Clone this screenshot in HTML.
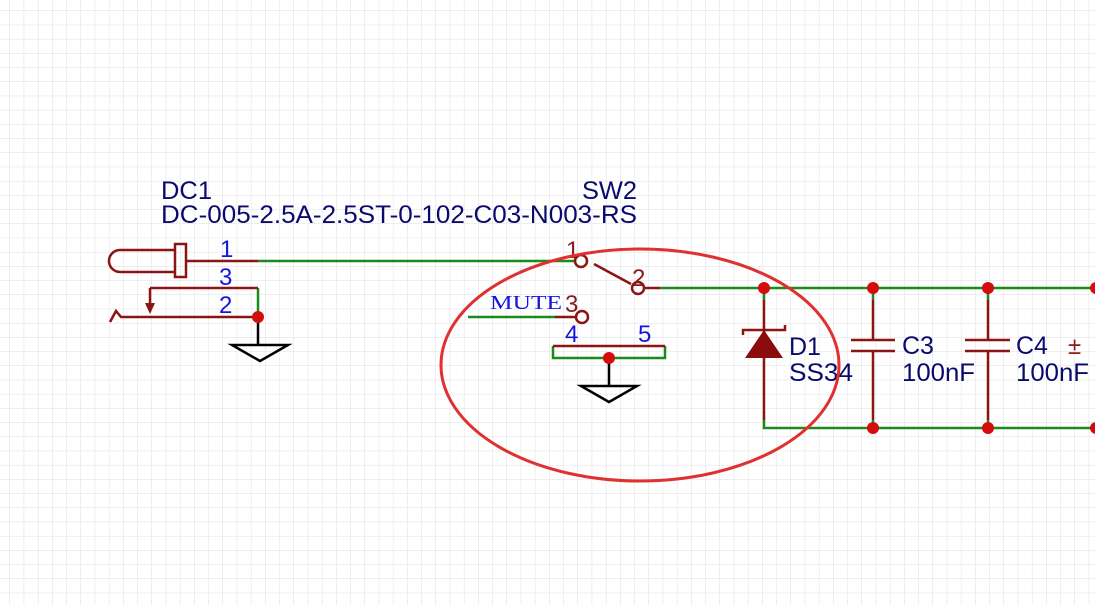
<!DOCTYPE html>
<html><head><meta charset="utf-8"><style>
html,body{margin:0;padding:0;background:#fff}
svg{display:block}
text{font-family:"Liberation Sans",sans-serif}
</style></head><body>
<svg width="1095" height="605" viewBox="0 0 1095 605" xmlns="http://www.w3.org/2000/svg">
<defs>
<pattern id="g" x="9.5" y="10.5" width="14.2" height="14.2" patternUnits="userSpaceOnUse">
<path d="M0 0H14.2M0 0V14.2" stroke="#dedede" stroke-width="1" fill="none"/>
</pattern>
</defs>
<rect width="1095" height="605" fill="#fff"/>
<rect width="1095" height="605" fill="url(#g)"/>

<g fill="#0a0a6e" font-size="25">
<text x="161" y="199" textLength="51" lengthAdjust="spacingAndGlyphs">DC1</text>
<text x="161" y="223" textLength="476" lengthAdjust="spacingAndGlyphs">DC-005-2.5A-2.5ST-0-102-C03-N003-RS</text>
<text x="582" y="199" textLength="55" lengthAdjust="spacingAndGlyphs">SW2</text>
<text x="789" y="355">D1</text>
<text x="789" y="381" textLength="64" lengthAdjust="spacingAndGlyphs">SS34</text>
<text x="902" y="354">C3</text>
<text x="902" y="381" textLength="73" lengthAdjust="spacingAndGlyphs">100nF</text>
<text x="1016" y="354">C4</text>
<text x="1016" y="381" textLength="73" lengthAdjust="spacingAndGlyphs">100nF</text>
</g>

<g fill="#1515e0" font-size="24">
<text x="220" y="257">1</text>
<text x="219" y="285">3</text>
<text x="219" y="313">2</text>
<text x="565" y="342">4</text>
<text x="638" y="342">5</text>
</g>
<text x="490" y="309" fill="#1515e0" font-size="20" textLength="72" lengthAdjust="spacingAndGlyphs" style="font-family:'Liberation Serif',serif">MUTE</text>

<g fill="#8b1a1a" font-size="24">
<text x="566" y="258">1</text>
<text x="632" y="286">2</text>
<text x="565" y="312">3</text>
<text x="1068" y="354">±</text>
</g>

<g stroke="#1a8a1a" stroke-width="2.5" fill="none">
<path d="M258 261H575"/>
<path d="M258 288V317"/>
<path d="M660 288H1095"/>
<path d="M468 317H555"/>
<path d="M553 346V358H665V346"/>
<path d="M764 288V300M764 420V428H1095"/>
<path d="M873 420V428M988 420V428"/>
<path d="M873 288V300M988 288V300"/>
</g>

<g stroke="#8b1414" stroke-width="2.5" fill="none">
<path d="M187 261H258"/>
<path d="M175 250H120A11 11 0 0 0 120 272H175"/>
<rect x="175" y="244" width="11" height="33"/>
<path d="M150 288H258"/>
<path d="M150 288V310"/>
<path d="M110 322L116 311L121 317H258"/>
<path d="M555 317H576"/>
<circle cx="581" cy="261" r="6"/>
<circle cx="638" cy="288" r="6"/>
<circle cx="582" cy="317" r="6"/>
<path d="M594 264L631 284"/>
<path d="M645 288H660"/>
<path d="M553 346H665"/>
<path d="M764 300V420"/>
<path d="M743 335V330H785V325"/>
<path d="M873 300V340M851 340H895M851 351H895M873 351V420"/>
<path d="M988 300V340M965 340H1010M965 351H1010M988 351V420"/>
</g>
<path d="M145 303L150 314L155 303Z" fill="#8b1414"/>
<path d="M745 358L783 358L764 330Z" fill="#8b0c0c"/>

<g stroke="#000" stroke-width="2.5" fill="none">
<path d="M258 317V345M232 345H288L260 361Z"/>
<path d="M609 358V386M581 386H637L609 402Z"/>
</g>

<g fill="#d40c0c">
<circle cx="258" cy="317" r="6"/>
<circle cx="609" cy="358" r="6"/>
<circle cx="764" cy="288" r="6"/>
<circle cx="873" cy="288" r="6"/>
<circle cx="988" cy="288" r="6"/>
<circle cx="873" cy="428" r="6"/>
<circle cx="988" cy="428" r="6"/>
<circle cx="1096" cy="288" r="6"/>
<circle cx="1096" cy="428" r="6"/>
</g>

<ellipse cx="640" cy="365" rx="199" ry="116" fill="none" stroke="#e03030" stroke-width="3"/>
</svg>
</body></html>
